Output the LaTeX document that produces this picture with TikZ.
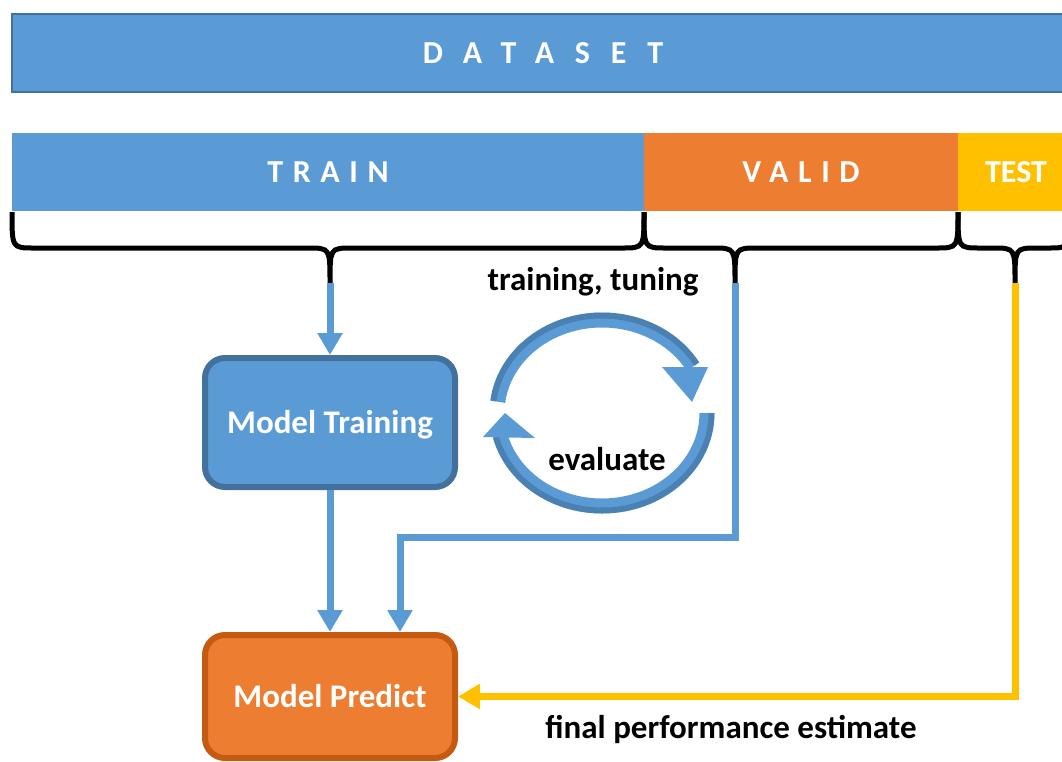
\documentclass[tikz,border=0pt]{standalone}
\usepackage{fontspec}
\setmainfont{Carlito}
\newfontfamily\widefont[LetterSpace=65]{Carlito}
\newfontfamily\midfont[LetterSpace=30]{Carlito}
\usetikzlibrary{arrows.meta}
\definecolor{barblue}{HTML}{5B9BD5}
\definecolor{edgeblue}{HTML}{41719C}
\definecolor{barorange}{HTML}{ED7D31}
\definecolor{edgeorange}{HTML}{C55A11}
\definecolor{baryellow}{HTML}{FFC000}
\tikzstyle{bar}=[inner sep=0pt, outer sep=0pt, minimum height=78, text height=21, text depth=0, anchor=north west, text=white, font=\fontsize{32}{32}\selectfont\bfseries]
\tikzstyle{box}=[rounded corners=20, line width=6, minimum width=250, text height=21, text depth=0, text=white, font=\fontsize{33}{33}\selectfont\bfseries]
\tikzstyle{lbl}=[anchor=base, inner sep=0pt, font=\fontsize{33}{33}\selectfont\bfseries]
\tikzstyle{brace}=[draw, line width=5]
\tikzstyle{link}=[draw, line width=7, -{Triangle[width=24pt,length=22pt]}]
\tikzstyle{band}=[line width=15, barblue]
\tikzstyle{bandedge}=[line width=6, edgeblue, opacity=0.6]

\begin{document}
\begin{tikzpicture}[x=1pt, y=-1pt]
    \useasboundingbox (0,0) rectangle (1062,761);
    \clip (0,0) rectangle (1062,761);
    \node[bar, fill=barblue, draw=edgeblue, line width=1.5, minimum width=1062] (dataset) at (12,14) {\widefont\bfseries DATASET\hspace{-10pt}};
    \node[bar, fill=barblue, minimum width=632] (train) at (12,133) {\midfont\bfseries TRAIN\hspace{-5pt}};
    \node[bar, fill=barorange, minimum width=314] (valid) at (644,133) {\midfont\bfseries VALID\hspace{-5pt}};
    \node[bar, fill=baryellow, minimum width=116] (test) at (958,133) {TEST};

    \path[brace] (12,212) .. controls (12,248) .. (34,248) -- (308,248) .. controls (330,248) .. (330,283) coordinate (trainTip)
        .. controls (330,248) .. (352,248) -- (622,248) .. controls (644,248) .. (644,212);
    \path[brace] (644,212) .. controls (644,248) .. (666,248) -- (713,248) .. controls (735,248) .. (735,283) coordinate (validTip)
        .. controls (735,248) .. (757,248) -- (936,248) .. controls (958,248) .. (958,212);
    \path[brace] (958,212) .. controls (958,248) .. (980,248) -- (993,248) .. controls (1015,248) .. (1015,283) coordinate (testTip)
        .. controls (1015,248) .. (1037,248) -- (1048,248) .. controls (1070,248) .. (1070,212);

    \node[box, fill=barblue, draw=edgeblue, minimum height=129] (training) at (330,422.5) {Model Training};
    \node[box, fill=barorange, draw=edgeorange, minimum height=123] (predict) at (330,696.5) {Model Predict};

    \path[link, barblue] (trainTip) -- (training.north);
    \path[link, barblue] (training.south) -- (predict.north);
    \path[link, barblue] (validTip) -- ++(0,254) -| ([xshift=70pt]predict.north);
    \path[link, baryellow] (testTip) |- (predict.east);

    \coordinate (cyc) at (602,413);
    \draw[band] (cyc) ++(187:105 and 93) arc[start angle=187, end angle=330, x radius=105, y radius=93];
    \draw[bandedge] (cyc) ++(187:109.5 and 97.5) arc[start angle=187, end angle=330, x radius=109.5, y radius=97.5];
    \fill[barblue] (662,367) -- (708,367) -- (692,402) -- cycle;
    \draw[band] (cyc) ++(0:105 and 93) arc[start angle=0, end angle=166, x radius=105, y radius=93];
    \draw[bandedge] (cyc) ++(0:109.5 and 97.5) arc[start angle=0, end angle=166, x radius=109.5, y radius=97.5];
    \fill[barblue] (483,437) -- (535,438) -- (505,413) -- cycle;

    \node[lbl] (tuning) at (593,290) {training, tuning};
    \node[lbl] (evaluate) at (607,470) {evaluate};
    \node[lbl] (final) at (731,738) {final performance estimate};
\end{tikzpicture}
\end{document}
